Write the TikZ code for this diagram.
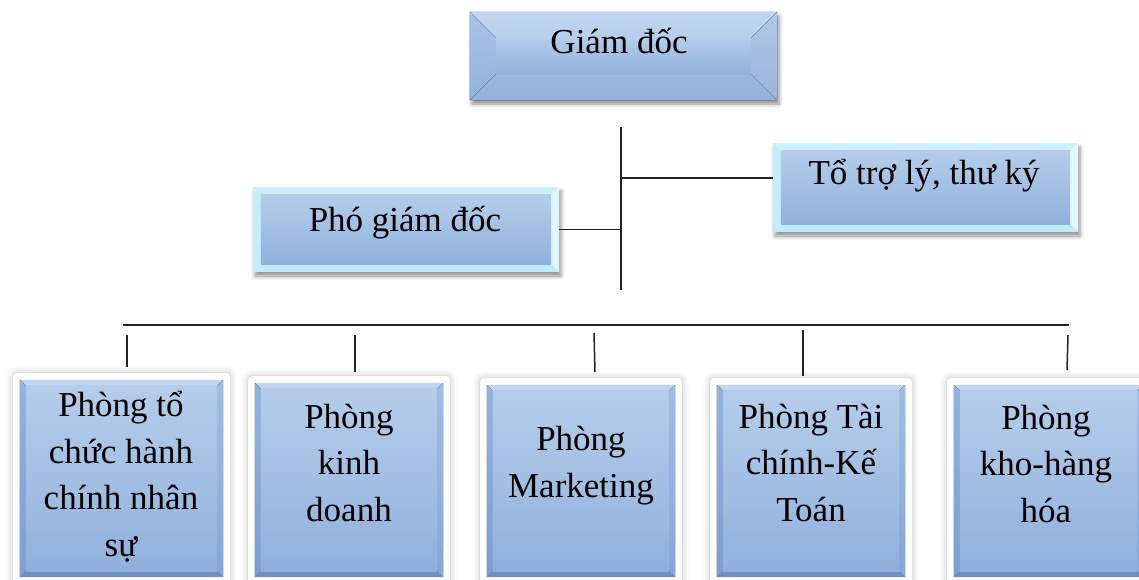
\documentclass[tikz,border=0pt]{standalone}
\usepackage{fontspec}
\setmainfont{Liberation Serif}
\usetikzlibrary{calc,fit,shadows.blur}
\definecolor{faceT}{HTML}{B5CDEA}
\definecolor{faceB}{HTML}{90B0DC}
\definecolor{lineC}{HTML}{222222}
\definecolor{gdTopA}{HTML}{C0D5EF}\definecolor{gdTopB}{HTML}{B7CEEA}
\definecolor{gdLA}{HTML}{A9C3E6}\definecolor{gdLB}{HTML}{92B1DC}
\definecolor{gdRA}{HTML}{AFC8E8}\definecolor{gdRB}{HTML}{97B5DE}
\definecolor{gdBA}{HTML}{98B6DF}\definecolor{gdBB}{HTML}{93B2DD}
\definecolor{cyT}{HTML}{CDF1FB}\definecolor{cyL}{HTML}{C3EDF9}
\definecolor{cyR}{HTML}{E2F7FD}\definecolor{cyB}{HTML}{BDEBF9}
\definecolor{bbT}{HTML}{BFD5F1}
\definecolor{bbLA}{HTML}{93B2DE}\definecolor{bbLB}{HTML}{7E9ED0}
\definecolor{bbRA}{HTML}{A0BDE4}\definecolor{bbRB}{HTML}{86A6D6}
\definecolor{bbB}{HTML}{7090C3}
\newcommand\Bevel[6]{%
  \fill[#3] (#1.north west) -- (#1.north east) -- ($(#1.north east)+(-#2,-#2)$) -- ($(#1.north west)+(#2,-#2)$) -- cycle;
  \fill[#4] (#1.north west) -- ($(#1.north west)+(#2,-#2)$) -- ($(#1.south west)+(#2,#2)$) -- (#1.south west) -- cycle;
  \fill[#5] (#1.north east) -- ($(#1.north east)+(-#2,-#2)$) -- ($(#1.south east)+(-#2,#2)$) -- (#1.south east) -- cycle;
  \fill[#6] (#1.south west) -- ($(#1.south west)+(#2,#2)$) -- ($(#1.south east)+(-#2,#2)$) -- (#1.south east) -- cycle;
  \shade[top color=faceT, bottom color=faceB] ($(#1.north west)+(#2,-#2)$) rectangle ($(#1.south east)+(-#2,#2)$);
}
\tikzset{
  outerbox/.style={inner sep=0pt, fill=white, blur shadow={shadow xshift=2pt, shadow yshift=-4pt, shadow blur radius=4pt, shadow opacity=45}},
  framebox/.style={inner sep=0pt, fill=white, rounded corners=4pt, blur shadow={shadow xshift=0pt, shadow yshift=0pt, shadow blur radius=7pt, shadow opacity=25}},
  plainbox/.style={inner sep=0pt},
  label/.style={font=\fontsize{35}{46.5}\selectfont, inner sep=0pt, align=center, text=black},
  conn/.style={draw=lineC, line width=1.5pt},
}
\begin{document}
\begin{tikzpicture}[x=1pt,y=-1pt]
\useasboundingbox (0,0) rectangle (1139,579);
% ---- top boxes
\coordinate (gd1) at (470,12); \coordinate (gd2) at (777,100);
\node[outerbox, fit=(gd1)(gd2)] (gd) {};
\Bevel{gd}{26pt}{top color=gdTopA,bottom color=gdTopB}{top color=gdLA,bottom color=gdLB}{top color=gdRA,bottom color=gdRB}{top color=gdBA,bottom color=gdBB}
\node[label, anchor=base] (gdt) at (619,53) {Giám đốc};

\coordinate (pg1) at (253,187); \coordinate (pg2) at (559,272);
\node[outerbox, fit=(pg1)(pg2)] (pg) {};
\Bevel{pg}{8pt}{fill=cyT}{fill=cyL}{fill=cyR}{fill=cyB}
\node[label, anchor=base] (pgt) at (405,231) {Phó giám đốc};

\coordinate (ty1) at (773,143); \coordinate (ty2) at (1078,232);
\node[outerbox, fit=(ty1)(ty2)] (ty) {};
\Bevel{ty}{8pt}{fill=cyT}{fill=cyL}{fill=cyR}{fill=cyB}
\node[label, anchor=base] (tyt) at (924,184) {Tổ trợ lý, thư ký};

% ---- connectors (upper)
\coordinate (vtop) at (621,127); \coordinate (vbot) at (621,290);
\draw[conn] (vtop) -- (vbot);
\coordinate (j1) at (622,178);
\draw[conn] (j1) -- (j1 -| ty.west);
\draw[conn] (pg.east) -- (pg.east -| vtop);

% ---- bus
\coordinate (busL) at (123,325); \coordinate (busR) at (1069,325);
\draw[conn] (busL) -- (busR);

% ---- bottom boxes
\foreach \n/\xa/\ya/\xb in {b1/13/373/230, b2/248/376/450, b3/480/378/682, b4/710/378/912, b5/947/378/1150}{
  \coordinate (\n-o1) at (\xa,\ya); \coordinate (\n-o2) at (\xb,584);
  \node[framebox, fit=(\n-o1)(\n-o2)] (\n-frame) {};
  \coordinate (\n-i1) at (\xa+7,\ya+7); \coordinate (\n-i2) at (\xb-7,577);
  \node[plainbox, fit=(\n-i1)(\n-i2)] (\n) {};
  \Bevel{\n}{6pt}{fill=bbT}{top color=bbLA,bottom color=bbLB}{top color=bbRA,bottom color=bbRB}{fill=bbB}
}
\node[label, anchor=base] (b1t) at (121,556) {Phòng tổ\\chức hành\\chính nhân\\sự};
\node[label, anchor=base] (b2t) at (349,521) {Phòng\\kinh\\doanh};
\node[label, anchor=base] (b3t) at (581,497) {Phòng\\Marketing};
\node[label, anchor=base] (b4t) at (811,521) {Phòng Tài\\chính-Kế\\Toán};
\node[label, anchor=base] (b5t) at (1046,522) {Phòng\\kho-hàng\\hóa};

% ---- drops
\coordinate (d1) at (127,335); \coordinate (d2) at (355,335); \coordinate (d3) at (594,333);
\coordinate (d4) at (803,330); \coordinate (d5) at (1068,335);
\draw[conn] (d1) -- (127,367);
\draw[conn] (d2) -- (355,372);
\draw[conn] (d3) -- (595,372);
\draw[conn] (d4) -- (803,376);
\draw[conn] (d5) -- (1067,370);
\end{tikzpicture}
\end{document}
